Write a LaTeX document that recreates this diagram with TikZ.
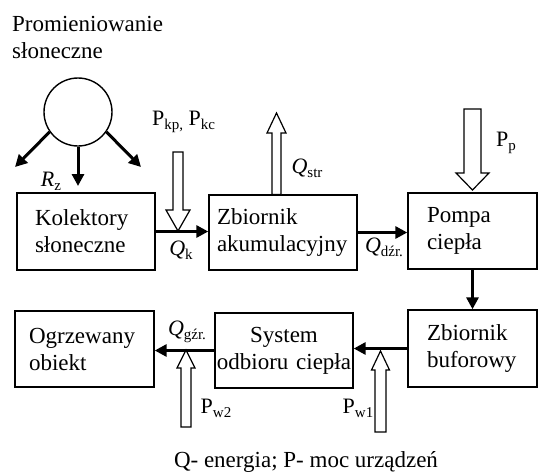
\documentclass[tikz,border=0pt]{standalone}
\usepackage{fontspec}
\setmainfont{Liberation Serif}
\usetikzlibrary{arrows.meta}
\newcommand{\sbs}[1]{\raisebox{-4pt}{\fontsize{15}{15}\selectfont #1}}
\newcommand{\harr}[6]{\draw[hol] (#1-#4,#2) -- (#1-#4,#6) -- (#1-#5,#6) -- (#1,#3) -- (#1+#5,#6) -- (#1+#4,#6) -- (#1+#4,#2) -- cycle;}
\begin{document}
\begin{tikzpicture}[x=1pt,y=-1pt,
  every node/.style={font=\fontsize{23}{27}\selectfont},
  blk/.style={draw, line width=1.4pt, inner ysep=2pt, align=left},
  flow/.style={line width=3pt, -{Triangle[length=12pt,width=12pt]}},
  hol/.style={draw, line width=1.2pt, fill=white, line join=miter},
  lbl/.style={inner sep=0pt, font=\fontsize{22}{24}\selectfont}]
\useasboundingbox (0,0) rectangle (539,475);

% title
\node[anchor=north west, align=left, inner sep=0pt] (title) at (12,16) {Promieniowanie\\słoneczne};

% sun
\node[draw, circle, line width=1.4pt, minimum size=68pt, inner sep=0pt] (sun) at (78,112) {};
\coordinate (rl) at (15,167);
\coordinate (rm) at (78,186);
\coordinate (rr) at (141,167);
\draw[flow] (sun.-145) -- (rl);
\draw[flow] (sun.south) -- (rm);
\draw[flow] (sun.-35) -- (rr);

% boxes
\node[blk, minimum height=77pt, text width=102pt, inner xsep=18pt] (kol) at (86,231.5) {Kolektory\\słoneczne};
\node[blk, minimum height=75pt, text width=132pt, inner xsep=8pt] (zak) at (283,232.5) {Zbiornik\\akumulacyjny};
\node[blk, minimum height=76pt, text width=91pt, inner xsep=19pt] (pom) at (472.5,231) {Pompa\\ciepła};
\node[blk, minimum height=77pt, text width=91pt, inner xsep=19pt] (buf) at (472.5,348.5) {Zbiornik\\buforowy};
\node[blk, minimum height=75pt, text width=137pt, inner xsep=0.5pt, align=center] (sys) at (284,350.5) {System\\odbioru ciepła};
\node[blk, minimum height=76pt, text width=111pt, inner xsep=14pt] (ogr) at (84.5,349) {Ogrzewany\\obiekt};

% flows
\draw[flow] (kol.east) -- (kol.east -| zak.west);
\draw[flow] (zak.east) -- (zak.east -| pom.west);
\draw[flow] (pom.south) -- (buf.north);
\draw[flow] (buf.west) -- (buf.west -| sys.east);
\draw[flow] (sys.west) -- (sys.west -| ogr.east);

% hollow arrows
\harr{178}{152}{231}{5}{12}{210}
\harr{276.5}{194.5}{113}{4.5}{9.5}{133}
\harr{472.5}{109}{190}{8.5}{16.5}{173}
\harr{380.5}{432}{351}{5.5}{9}{370}
\harr{186}{427}{350}{5}{9}{368}

% labels
\node[lbl] (lkp) at (183.5,122) {P\sbs{kp,} P\sbs{kc}};
\node[lbl] (lstr) at (307,168) {\textit{Q}\sbs{str}};
\node[lbl] (lk) at (181,250) {\textit{Q}\sbs{k}};
\node[lbl] (ldz) at (384,247) {\textit{Q}\sbs{dźr.}};
\node[lbl] (lp) at (506,143) {P\sbs{p}};
\node[lbl] (lgz) at (187,332) {\textit{Q}\sbs{gźr.}};
\node[lbl] (lw1) at (358,408) {P\sbs{w1}};
\node[lbl] (lw2) at (216,408) {P\sbs{w2}};
\node[lbl] (lrz) at (51,181) {\textit{R}\sbs{z}};

% caption
\node (cap) at (306,462) {Q- energia; P- moc urządzeń};
\end{tikzpicture}
\end{document}
